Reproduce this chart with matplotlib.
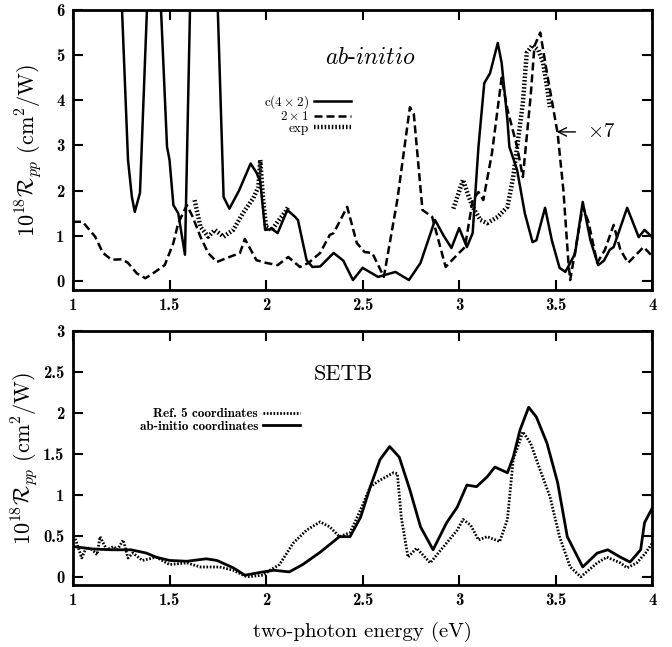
import matplotlib
matplotlib.use("Agg")
import matplotlib.pyplot as plt
import numpy as np

plt.rcParams['font.family'] = ['cmr10', 'DejaVu Serif']
plt.rcParams['mathtext.fontset'] = 'cm'
plt.rcParams['axes.unicode_minus'] = False

# ---------------- data: top panel (ab-initio) ----------------
c42_x = [1.20, 1.254, 1.285, 1.305, 1.32, 1.347, 1.383, 1.42, 1.456, 1.487, 1.50, 1.52, 1.545, 1.58,
         1.606, 1.68, 1.75, 1.78, 1.81, 1.86, 1.92, 1.95, 1.97, 1.995, 2.03, 2.06, 2.11, 2.15, 2.165,
         2.21, 2.24, 2.28, 2.35, 2.40, 2.45, 2.50, 2.58, 2.67, 2.74, 2.80, 2.875, 2.92, 2.96, 3.0,
         3.04, 3.07, 3.10, 3.13, 3.16, 3.20, 3.22, 3.25, 3.26, 3.30, 3.34, 3.38, 3.40, 3.445, 3.48,
         3.52, 3.55, 3.60, 3.64, 3.68, 3.72, 3.75, 3.78, 3.80, 3.87, 3.93, 3.96, 4.0]
c42_y = [8.0, 6.0, 2.68, 1.86, 1.53, 1.95, 6.0, 9.0, 6.0, 2.97, 2.68, 1.68, 1.5, 0.58,
         6.0, 9.0, 6.0, 1.86, 1.6, 2.0, 2.6, 2.4, 2.2, 1.13, 1.15, 1.06, 1.57, 1.42, 1.35,
         0.46, 0.31, 0.32, 0.62, 0.45, 0.02, 0.29, 0.09, 0.2, 0.02, 0.4, 1.35, 1.0, 0.73, 1.17,
         0.75, 1.06, 2.97, 4.38, 4.6, 5.27, 4.83, 3.56, 2.97, 2.46, 1.5, 0.86, 0.9, 1.62, 0.9,
         0.29, 0.2, 0.6, 1.75, 0.9, 0.35, 0.45, 0.69, 0.75, 1.62, 0.97, 1.13, 0.97]

d21_x = [1.0, 1.05, 1.115, 1.155, 1.2, 1.255, 1.285, 1.33, 1.375, 1.415, 1.475, 1.52, 1.545, 1.59,
         1.62, 1.66, 1.70, 1.745, 1.81, 1.865, 1.89, 1.95, 2.0, 2.06, 2.115, 2.175, 2.22, 2.28,
         2.33, 2.35, 2.42, 2.47, 2.51, 2.55, 2.61, 2.68, 2.745, 2.765, 2.81, 2.86, 2.93, 2.99,
         3.03, 3.07, 3.10, 3.125, 3.17, 3.22, 3.25, 3.30, 3.33, 3.37, 3.39, 3.42, 3.455, 3.51,
         3.54, 3.565, 3.575, 3.64, 3.67, 3.715, 3.755, 3.80, 3.835, 3.875, 3.955, 4.0]
d21_y = [1.31, 1.31, 0.98, 0.62, 0.47, 0.48, 0.4, 0.17, 0.06, 0.17, 0.35, 0.84, 1.28, 1.68,
         1.42, 0.98, 0.62, 0.42, 0.53, 0.62, 0.93, 0.46, 0.4, 0.35, 0.53, 0.31, 0.4, 0.62,
         1.02, 1.06, 1.64, 0.84, 0.64, 0.62, 0.09, 1.8, 3.85, 3.7, 1.57, 1.42, 0.31, 0.58,
         0.75, 1.79, 1.97, 1.79, 2.83, 4.5, 3.8, 2.97, 2.3, 4.08, 5.2, 5.5, 4.6, 3.27,
         2.0, 0.46, 0.02, 1.64, 1.3, 0.4, 0.69, 1.24, 0.69, 0.4, 0.75, 0.55]

exp1_x = [1.63, 1.66, 1.70, 1.735, 1.78, 1.83, 1.88, 1.935, 1.96, 1.97, 1.985, 2.0, 2.03, 2.06, 2.10, 2.115]
exp1_y = [1.79, 1.2, 0.98, 1.13, 0.98, 1.13, 1.5, 1.84, 2.08, 2.68, 1.79, 1.2, 1.13, 1.31, 1.53, 1.64]
exp2_x = [2.97, 3.02, 3.05, 3.07, 3.11, 3.145, 3.20, 3.25, 3.28, 3.305, 3.33, 3.35, 3.38, 3.41, 3.435, 3.455, 3.47]
exp2_y = [1.6, 2.24, 1.86, 1.64, 1.35, 1.28, 1.42, 1.64, 2.3, 3.12, 3.94, 5.05, 5.22, 5.11, 4.83, 4.3, 3.85]

# ---------------- data: bottom panel (SETB) ----------------
abc_x = [1.0, 1.1, 1.2, 1.3, 1.38, 1.43, 1.50, 1.59, 1.69, 1.745, 1.83, 1.89, 1.985, 2.04, 2.12,
         2.19, 2.28, 2.38, 2.435, 2.49, 2.54, 2.59, 2.64, 2.69, 2.745, 2.80, 2.865, 2.935, 2.99,
         3.04, 3.09, 3.145, 3.185, 3.25, 3.28, 3.315, 3.36, 3.40, 3.455, 3.51, 3.56, 3.64, 3.715,
         3.77, 3.835, 3.885, 3.94, 3.96, 4.0]
abc_y = [0.37, 0.34, 0.33, 0.33, 0.29, 0.24, 0.2, 0.19, 0.22, 0.2, 0.11, 0.02, 0.06, 0.08, 0.06,
         0.15, 0.3, 0.49, 0.49, 0.73, 1.1, 1.43, 1.59, 1.46, 1.06, 0.61, 0.33, 0.66, 0.85,
         1.12, 1.1, 1.22, 1.34, 1.27, 1.46, 1.79, 2.07, 1.95, 1.63, 1.15, 0.49, 0.12, 0.29,
         0.33, 0.24, 0.18, 0.33, 0.66, 0.84]

ref5_x = [1.0, 1.02, 1.045, 1.07, 1.1, 1.125, 1.14, 1.175, 1.21, 1.23, 1.26, 1.285, 1.31, 1.36,
          1.43, 1.50, 1.59, 1.66, 1.76, 1.83, 1.90, 1.985, 2.02, 2.07, 2.14, 2.21, 2.28, 2.33,
          2.38, 2.435, 2.49, 2.54, 2.59, 2.66, 2.68, 2.70, 2.735, 2.78, 2.85, 2.92, 2.99, 3.02,
          3.06, 3.10, 3.145, 3.21, 3.25, 3.28, 3.33, 3.37, 3.42, 3.47, 3.52, 3.575, 3.63, 3.715,
          3.765, 3.835, 3.87, 3.92, 3.965, 4.0]
ref5_y = [0.54, 0.41, 0.23, 0.36, 0.33, 0.27, 0.49, 0.33, 0.37, 0.33, 0.45, 0.23, 0.29, 0.2,
          0.24, 0.15, 0.17, 0.12, 0.12, 0.08, 0.0, 0.02, 0.08, 0.15, 0.41, 0.57, 0.67, 0.61,
          0.49, 0.54, 0.82, 1.1, 1.18, 1.27, 1.26, 0.73, 0.24, 0.35, 0.17, 0.37, 0.57, 0.7,
          0.63, 0.45, 0.49, 0.43, 0.7, 1.43, 1.77, 1.63, 1.3, 0.98, 0.49, 0.12, 0.0, 0.17,
          0.24, 0.17, 0.11, 0.17, 0.29, 0.41]

xticks = [1, 1.5, 2, 2.5, 3, 3.5, 4]
xticklabels = ['1', '1.5', '2', '2.5', '3', '3.5', '4']
top_yticks = [0, 1, 2, 3, 4, 5, 6]
bot_yticks = [0, 0.5, 1, 1.5, 2, 2.5, 3]
bot_yticklabels = ['0', '0.5', '1', '1.5', '2', '2.5', '3']

fig = plt.figure(figsize=(6.72, 6.47), dpi=100)
ax1 = fig.add_axes([0.1086, 0.5518, 0.862, 0.4328])
ax2 = fig.add_axes([0.1086, 0.0958, 0.862, 0.3926])

ylab = r'$10^{18}\mathcal{R}_{pp}\ (\mathrm{cm}^2/\mathrm{W})$'

def style(ax, yticks, yticklabels, lpad):
    ax.set_xlim(1, 4)
    ax.set_xticks(xticks)
    ax.set_xticklabels(xticklabels, fontfamily='cmb10', fontsize=12)
    ax.set_yticks(yticks)
    ax.set_yticklabels(yticklabels, fontfamily='cmb10', fontsize=12)
    ax.tick_params(direction='in', length=7, width=1.5, top=True, right=True, pad=6)
    for s in ax.spines.values():
        s.set_linewidth(2)
    ax.set_ylabel(ylab, fontsize=16, labelpad=lpad)

# top panel
ax1.plot(c42_x, c42_y, color='black', lw=1.8, label=r'c$(4\times2)$')
ax1.plot(d21_x, d21_y, color='black', lw=1.8, linestyle=(0, (3.2, 1.6)), label=r'$2\times1$')
ax1.plot(exp1_x, exp1_y, color='black', lw=3.2, linestyle=(0, (0.35, 0.45)), label='exp')
ax1.plot(exp2_x, exp2_y, color='black', lw=3.2, linestyle=(0, (0.35, 0.45)))
ax1.set_ylim(-0.2, 6)
style(ax1, top_yticks, [str(v) for v in top_yticks], 9)
ax1.text(2.54, 4.94, r'$ab$-$initio$', fontsize=17, ha='center', va='center')
ax1.annotate(r'$\times 7$', xy=(3.505, 3.3), xytext=(3.66, 3.3), fontsize=15, va='center',
             arrowprops=dict(arrowstyle='->', lw=1.0, color='black', shrinkA=6, shrinkB=0))
ax1.legend(loc='upper right', bbox_to_anchor=(0.492, 0.727), frameon=False, markerfirst=False,
           fontsize=9.5, handlelength=2.8, handletextpad=0.4, labelspacing=-0.05, borderpad=0)

# bottom panel
ax2.plot(ref5_x, ref5_y, color='black', lw=2.0, linestyle=(0, (0.6, 0.6)), label='Ref. 5 coordinates')
ax2.plot(abc_x, abc_y, color='black', lw=2.0, label='ab-initio coordinates')
ax2.set_ylim(-0.1, 3)
style(ax2, bot_yticks, bot_yticklabels, 2)
ax2.text(2.40, 2.47, 'SETB', fontsize=16, ha='center', va='center')
ax2.set_xlabel('two-photon energy (eV)', fontsize=15, labelpad=10)
ax2.legend(loc='upper right', bbox_to_anchor=(0.404, 0.723), frameon=False, markerfirst=False,
           prop={'family': 'cmb10', 'size': 9.5}, handlelength=2.8, handletextpad=0.4,
           labelspacing=0.05, borderpad=0)

fig.savefig('out.png', dpi=100)
